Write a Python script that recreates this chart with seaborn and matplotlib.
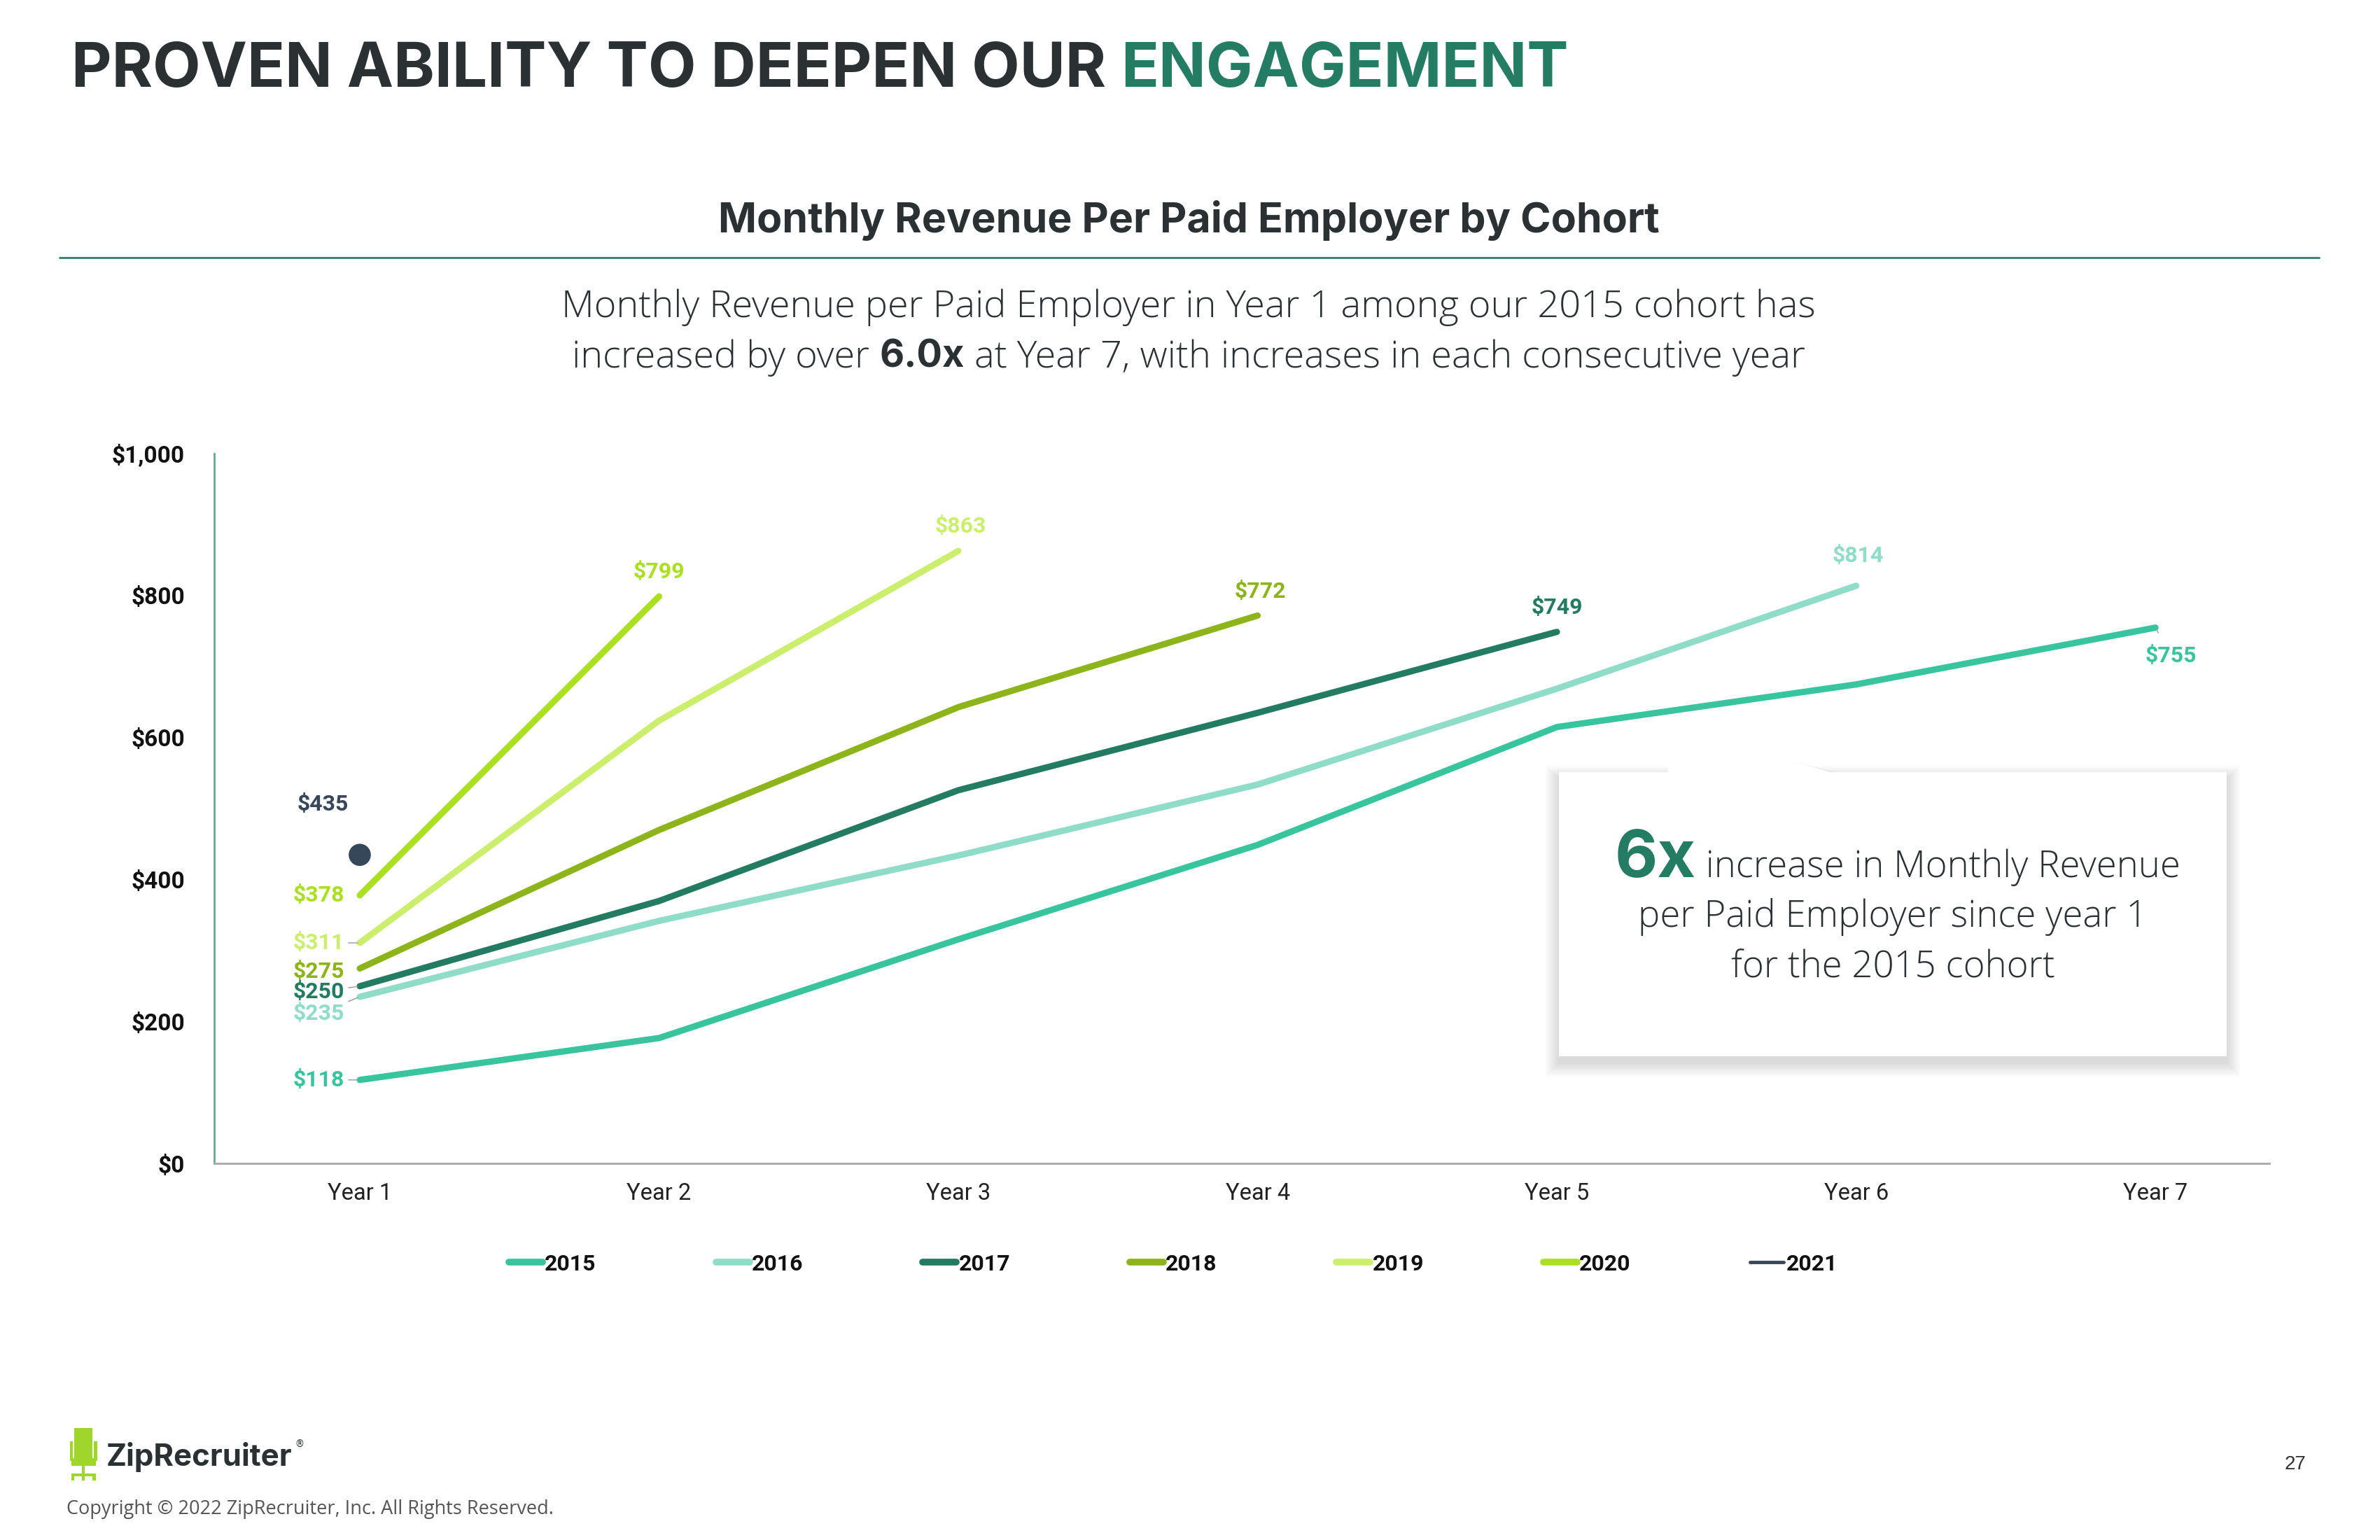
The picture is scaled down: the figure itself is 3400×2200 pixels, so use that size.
import numpy as np
import pandas as pd
import seaborn as sns
import matplotlib.pyplot as plt
from matplotlib.lines import Line2D
from matplotlib.patches import Rectangle, Polygon

# ---- data ----
years = ["Year 1", "Year 2", "Year 3", "Year 4", "Year 5", "Year 6", "Year 7"]
cohorts = ["2015", "2016", "2017", "2018", "2019", "2020", "2021"]

rev_2015 = [118, 177, 316, 449, 615, 675, 755]
rev_2016 = [235, 342, 434, 534, 669, 814]
rev_2017 = [250, 370, 526, 635, 749]
rev_2018 = [275, 470, 643, 772]
rev_2019 = [311, 624, 863]
rev_2020 = [378, 799]
rev_2021 = [435]

y_ticks = [0, 200, 400, 600, 800, 1000]
y_tick_labels = ["$0", "$200", "$400", "$600", "$800", "$1,000"]

colors = ["#38C59E", "#8FDCC8", "#237C61", "#8DB41B", "#CBEE6D", "#AADF22", "#37475A"]

series = [rev_2015, rev_2016, rev_2017, rev_2018, rev_2019, rev_2020, rev_2021]
rows = []
for c, vals in zip(cohorts, series):
    for i, v in enumerate(vals):
        rows.append({"cohort": c, "year": i, "revenue": v})
df = pd.DataFrame(rows)
palette = dict(zip(cohorts, colors))

sns.set_theme(style="white")
plt.rcParams["font.family"] = ["Roboto", "DejaVu Sans"]

W, H = 3400, 2200
fig = plt.figure(figsize=(34, 22), dpi=100)
fig.patch.set_facecolor("white")

# reference layout measured on a 1568x1015 view
def fx(x):
    return x / 1568

def fy(y):
    return 1 - y / 1015

ax = fig.add_axes([fx(141), fy(767), fx(1495) - fx(141), fy(299) - fy(767)])

lines_df = df[df["cohort"] != "2021"]
sns.lineplot(data=lines_df, x="year", y="revenue", hue="cohort", palette=palette,
             linewidth=6.5, legend=False, ax=ax, solid_capstyle="round")
sns.scatterplot(data=df[df["cohort"] == "2021"], x="year", y="revenue", color=colors[6],
                s=520, legend=False, ax=ax, edgecolor="none", zorder=5)

ax.set_xlim(-0.487, 6.38)
ax.set_ylim(0, 1000)
ax.set_xticks(range(len(years)))
ax.set_xticklabels(years, fontsize=23.5, color="#222222")
ax.set_yticks(y_ticks)
ax.set_yticklabels(y_tick_labels, fontsize=24, fontweight="bold", color="#111111")
ax.tick_params(axis="y", length=0, pad=30)
ax.tick_params(axis="x", length=0, pad=19)
ax.set_xlabel("")
ax.set_ylabel("")
for s in ["top", "right"]:
    ax.spines[s].set_visible(False)
ax.spines["left"].set_color("#6AA89A")
ax.spines["left"].set_linewidth(2)
ax.spines["bottom"].set_color("#A8A8A8")
ax.spines["bottom"].set_linewidth(2)

# ---- data labels ----
start_offsets = {"2015": (-16, 0), "2016": (-16, -17), "2017": (-16, -6), "2018": (-16, -3),
                 "2019": (-16, 0), "2020": (-16, 0)}
lead = {"2015", "2016", "2017", "2019"}
for c, vals in zip(cohorts[:6], series[:6]):
    dx, dy = start_offsets[c]
    ax.annotate(f"${vals[0]}", (0, vals[0]), xytext=(dx, dy), textcoords="offset points",
                ha="right", va="center", fontsize=23, fontweight="bold", color=palette[c],
                arrowprops=dict(arrowstyle="-", color="#9A9A9A", lw=1, shrinkA=2, shrinkB=2)
                if c in lead else None)

ax.annotate(f"${rev_2021[0]}", (0, rev_2021[0]), xytext=(-38, 52), textcoords="offset points",
            ha="center", va="center", fontsize=23, fontweight="bold", color=colors[6])

end_offsets = {"2016": (2, 31), "2017": (0, 25), "2018": (3, 25), "2019": (2, 25), "2020": (0, 25)}
for c, vals in zip(cohorts[1:6], series[1:6]):
    dx, dy = end_offsets[c]
    ax.annotate(f"${vals[-1]}", (len(vals) - 1, vals[-1]), xytext=(dx, dy),
                textcoords="offset points", ha="center", va="center", fontsize=23,
                fontweight="bold", color=palette[c])
ax.annotate(f"${rev_2015[-1]}", (6, rev_2015[-1]), xytext=(16, -29), textcoords="offset points",
            ha="center", va="center", fontsize=23, fontweight="bold", color=colors[0],
            arrowprops=dict(arrowstyle="-", color="#9A9A9A", lw=1, shrinkA=12, shrinkB=2))

# ---- legend ----
handles = [Line2D([0], [0], color=col, lw=7 if c != "2021" else 3.5, solid_capstyle="round")
           for c, col in zip(cohorts, colors)]
leg = fig.legend(handles, cohorts, loc="center", bbox_to_anchor=(fx(773), fy(833)), ncol=7,
                 frameon=False, handlelength=1.5, handletextpad=0.1, columnspacing=5.35,
                 prop={"family": "Roboto", "weight": "bold", "size": 23})
for t in leg.get_texts():
    t.set_color("#111111")

# ---- text helpers ----
renderer = fig.canvas.get_renderer()

def runs(pieces, x, y, align="center"):
    texts = [fig.text(0, fy(y), s, va="baseline", ha="left", **kw) for s, kw in pieces]
    widths = [t.get_window_extent(renderer).width for t in texts]
    px = x / 1568 * W
    if align == "center":
        px -= sum(widths) / 2
    for t, w in zip(texts, widths):
        t.set_x(px / W)
        px += w

dark = "#2B3033"
green = "#247D62"
head = {"family": ["Inter", "DejaVu Sans"], "weight": "bold"}
body = {"family": ["Open Sans", "DejaVu Sans"], "weight": "light"}

runs([("PROVEN ABILITY TO DEEPEN OUR ", dict(color=dark, fontsize=64, **head)),
      ("ENGAGEMENT", dict(color=green, fontsize=64, **head))], 47, 57, align="left")

runs([("Monthly Revenue Per Paid Employer by Cohort", dict(color=dark, fontsize=42.5, **head))],
     783, 153)
fig.add_artist(Line2D([fx(39), fx(1528)], [fy(170), fy(170)], color="#2C7D66", lw=2,
                      transform=fig.transFigure))

runs([("Monthly Revenue per Paid Employer in Year 1 among our 2015 cohort has",
       dict(color=dark, fontsize=39, **body))], 783, 209)
runs([("increased by over ", dict(color=dark, fontsize=39, **body)),
      ("6.0x", dict(color=dark, fontsize=39, family=head["family"], weight="bold")),
      (" at Year 7, with increases in each consecutive year", dict(color=dark, fontsize=39, **body))],
     783, 242)

# ---- callout box ----
bx0, bx1, by0, by1 = fx(1027), fx(1467), fy(696), fy(509)
for k in range(12):
    g = (12 - k) * 1.6
    fig.add_artist(Rectangle((bx0 - g / W, by0 - (g + 10) / H), bx1 - bx0 + 2 * g / W,
                             by1 - by0 + 2 * g / H, transform=fig.transFigure,
                             facecolor="#000000", edgecolor="none", alpha=0.01, zorder=8))
tri = [(fx(1097), fy(478)), (fx(1099), fy(510)), (fx(1210), fy(510))]
for k in range(6):
    g = (6 - k) * 1.5
    fig.add_artist(Polygon([(tri[0][0] + g / W, tri[0][1] - g / H), (tri[1][0] + g / W, tri[1][1]),
                            (tri[2][0] + g / W, tri[2][1])], closed=True, transform=fig.transFigure,
                           facecolor="#000000", edgecolor="none", alpha=0.012, zorder=8))
fig.add_artist(Rectangle((bx0, by0), bx1 - bx0, by1 - by0, transform=fig.transFigure,
                         facecolor="white", edgecolor="none", zorder=9))
fig.add_artist(Polygon(tri, closed=True, transform=fig.transFigure, facecolor="white",
                       edgecolor="none", zorder=9))

runs([("6x", dict(color=green, fontsize=68, zorder=10, **head)),
      (" increase in Monthly Revenue", dict(color=dark, fontsize=38, zorder=10, **body))],
     1250, 578)
runs([("per Paid Employer since year 1", dict(color=dark, fontsize=38, zorder=10, **body))],
     1247, 611)
runs([("for the 2015 cohort", dict(color=dark, fontsize=38, zorder=10, **body))], 1247, 644)

# ---- footer ----
lime = "#9ED62A"
for (x0, y0, x1, y1) in [(49, 941, 61, 962), (46, 950, 48, 963), (62, 950, 64, 963),
                         (47, 961, 63, 966), (54, 966, 56, 972), (47, 971, 63, 973),
                         (47, 971, 49, 976), (61, 971, 63, 976), (54, 971, 56, 976)]:
    fig.add_artist(Rectangle((fx(x0), fy(y1)), fx(x1) - fx(x0), fy(y0) - fy(y1),
                             transform=fig.transFigure, facecolor=lime, edgecolor="none"))
fig.text(fx(70), fy(966), "ZipRecruiter", fontsize=31.5, color=dark, ha="left", va="baseline",
         family=["Inter", "DejaVu Sans"], weight="bold")
fig.text(fx(195), fy(952), "®", fontsize=10, color=dark, ha="left", va="center")
fig.text(fx(44), fy(998), "Copyright © 2022 ZipRecruiter, Inc. All Rights Reserved.",
         fontsize=19.5, color="#555555", ha="left", va="baseline",
         family=["Open Sans", "DejaVu Sans"])
fig.text(fx(1512), fy(965), "27", fontsize=20, color="#333333", ha="center", va="center",
         family=["Liberation Sans", "DejaVu Sans"])

fig.savefig("out.png", dpi=100, facecolor="white")
